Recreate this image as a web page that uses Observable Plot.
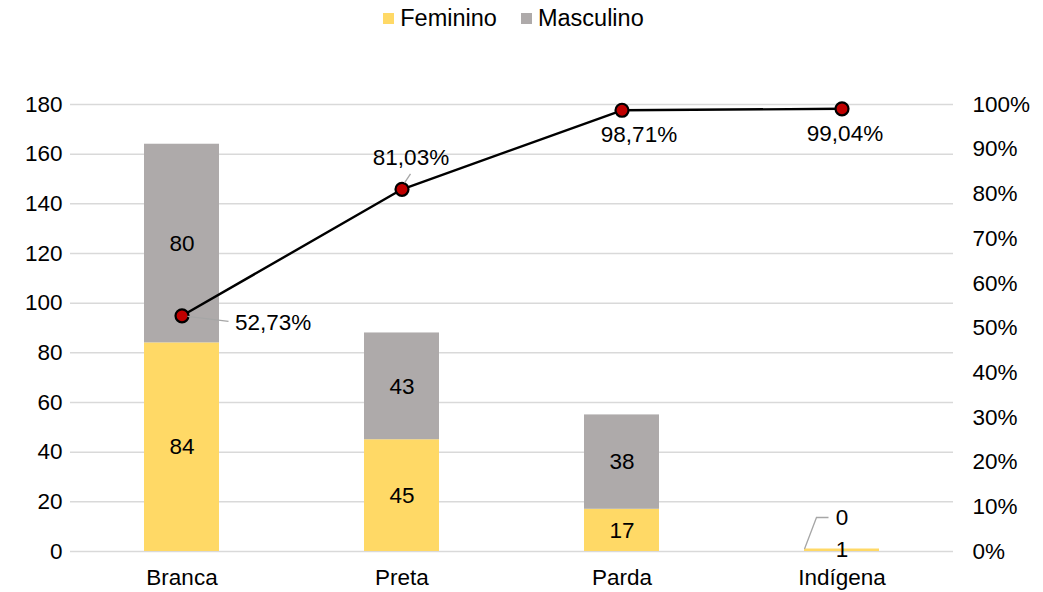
<!DOCTYPE html>
<html>
<head>
<meta charset="utf-8">
<script src="https://cdn.jsdelivr.net/npm/d3@7"></script>
<script src="https://cdn.jsdelivr.net/npm/@observablehq/plot@0.6"></script>
<style>
  html, body { margin: 0; padding: 0; background: #fff; }
  body { width: 1043px; height: 592px; overflow: hidden; font-family: "Liberation Sans", Arial, sans-serif; }
  #legend { height: 40px; display: flex; justify-content: center; align-items: center; gap: 24px; font-size: 23.5px; color: #000; box-sizing: border-box; padding-bottom: 4px; padding-right: 16px; }
  #legend .item { display: flex; align-items: center; gap: 6px; }
  #legend .sw { width: 11px; height: 11px; display: inline-block; }
</style>
</head>
<body>
<div id="legend"></div>
<div id="chart"></div>
<script>
const categories = ["Branca", "Preta", "Parda", "Indígena"];
const series = ["Feminino", "Masculino"];
const feminino = [84, 45, 17, 1];
const masculino = [80, 43, 38, 0];
const cumulativePct = [52.73, 81.03, 98.71, 99.04];
const pctLabels = ["52,73%", "81,03%", "98,71%", "99,04%"];
const leftTicks = [0, 20, 40, 60, 80, 100, 120, 140, 160, 180];
const rightTicks = [0, 10, 20, 30, 40, 50, 60, 70, 80, 90, 100];
const colors = ["#FFD966", "#AEAAAA"];

const yMax = 180;
const pctToY = p => p / 100 * yMax;

const rows = [];
categories.forEach((c, i) => {
  rows.push({cat: c, sex: "Feminino", value: feminino[i]});
  rows.push({cat: c, sex: "Masculino", value: masculino[i]});
});
const linePts = categories.map((c, i) => ({cat: c, y: pctToY(cumulativePct[i]), label: pctLabels[i], i}));

// label offsets (px) relative to each line point
const pctOffsets = [
  {dx: 53, dy: 7, anchor: "start"},
  {dx: 9, dy: -31, anchor: "middle"},
  {dx: 17, dy: 25, anchor: "middle"},
  {dx: 3, dy: 25, anchor: "middle"}
];

// legend
const legend = d3.select("#legend");
series.forEach((s, i) => {
  const it = legend.append("div").attr("class", "item");
  it.append("span").attr("class", "sw").style("background", colors[i]);
  it.append("span").text(s);
});

const FONT = 22.5;

function leaders(index, scales, values, dims) {
  const ns = "http://www.w3.org/2000/svg";
  const g = document.createElementNS(ns, "g");
  const bw = scales.x.bandwidth ? scales.x.bandwidth() : 0;
  const add = (pts) => {
    const p = document.createElementNS(ns, "polyline");
    p.setAttribute("points", pts.map(d => d.join(",")).join(" "));
    p.setAttribute("fill", "none");
    p.setAttribute("stroke", "#A6A6A6");
    p.setAttribute("stroke-width", "1.3");
    g.appendChild(p);
  };
  const x0 = scales.x(categories[0]) + bw / 2, y0 = scales.y(pctToY(cumulativePct[0]));
  add([[x0 + 6, y0 + 1], [x0 + 47, y0 + 6]]);
  const x1 = scales.x(categories[1]) + bw / 2, y1 = scales.y(pctToY(cumulativePct[1]));
  add([[x1 + 3, y1 - 6], [x1 + 9, y1 - 15]]);
  const x3 = scales.x(categories[3]) + bw / 2, y3 = scales.y(feminino[3]);
  add([[x3 - 37, y3 + 0.5], [x3 - 25, y3 - 31], [x3 - 13, y3 - 31]]);
  return g;
}

const chart = Plot.plot({
  width: 1043,
  height: 552,
  marginTop: 64,
  marginBottom: 41,
  marginLeft: 70,
  marginRight: 90,
  style: {fontFamily: '"Liberation Sans", Arial, sans-serif', fontSize: FONT + "px", color: "#000", background: "#fff"},
  x: {domain: categories, paddingInner: 0.66, paddingOuter: 0.33, label: null},
  y: {domain: [0, yMax], label: null},
  color: {domain: series, range: colors},
  marks: [
    Plot.gridY(leftTicks, {stroke: "#D9D9D9", strokeOpacity: 1, strokeWidth: 1.5}),
    Plot.axisY(leftTicks, {tickSize: 0, tickPadding: 8, label: null, fontSize: FONT}),
    Plot.axisX({tickSize: 0, tickPadding: 18, label: null, fontSize: FONT}),
    Plot.text(rightTicks, {y: d => pctToY(d), text: d => d + "%", frameAnchor: "right", textAnchor: "start", dx: 19, fontSize: FONT, fill: "#000"}),
    Plot.barY(rows, {x: "cat", y: "value", fill: "sex", order: series}),
    Plot.text(rows, Plot.stackY({x: "cat", y: "value", z: "sex", order: series, text: d => d.value === 0 ? "" : String(d.value), fontSize: FONT, fill: "#000"})),
    Plot.text(rows.filter(d => d.value === 0), {x: "cat", y: d => feminino[categories.indexOf(d.cat)], text: d => String(d.value), dy: -31, textAnchor: "middle", fontSize: FONT, fill: "#000"}),
    Plot.line(linePts, {x: "cat", y: "y", stroke: "#000", strokeWidth: 2.4}),
    Plot.dot(linePts, {x: "cat", y: "y", r: 6.5, fill: "#C00000", stroke: "#000", strokeWidth: 2.2}),
    leaders,
    ...linePts.map((d, i) => Plot.text([d], {x: "cat", y: "y", text: "label", dx: pctOffsets[i].dx, dy: pctOffsets[i].dy, textAnchor: pctOffsets[i].anchor, fontSize: FONT, fill: "#000"}))
  ]
});
document.getElementById("chart").appendChild(chart);
</script>
</body>
</html>
